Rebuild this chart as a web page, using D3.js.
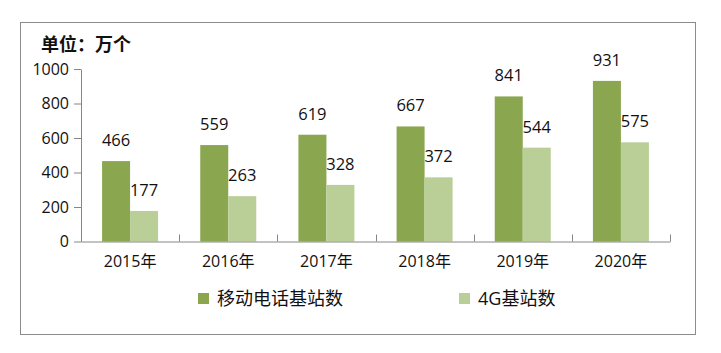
<!DOCTYPE html>
<html>
<head>
<meta charset="utf-8">
<script src="https://cdn.jsdelivr.net/npm/d3@7"></script>
<style>
  body { margin: 0; background: #fff; }
  text { font-family: "Open Sans", "Noto Sans CJK SC", sans-serif; fill: #111; }
</style>
</head>
<body>
<svg id="drawing_region"></svg>
<script>
const years = ["2015年", "2016年", "2017年", "2018年", "2019年", "2020年"];
const mobileStations = [466, 559, 619, 667, 841, 931];
const stations4G = [177, 263, 328, 372, 544, 575];
const seriesNames = ["移动电话基站数", "4G基站数"];
const yTicks = [0, 200, 400, 600, 800, 1000];

const colors = ["#8aa64f", "#b9cf97"];

const width = 721, height = 353;
const margin = {top: 69, right: 51, bottom: 111.5, left: 81};
const innerW = width - margin.left - margin.right;
const innerH = height - margin.top - margin.bottom;

const svg = d3.select('#drawing_region')
    .attr('width', width)
    .attr('height', height);

// outer frame
svg.append('rect')
    .attr('x', 20.5).attr('y', 22.5)
    .attr('width', 675).attr('height', 312)
    .attr('fill', 'none')
    .attr('stroke', '#8c8c8c');

svg.append('text')
    .attr('x', 41).attr('y', 51)
    .attr('font-size', 18)
    .attr('font-weight', 'bold')
    .style('font-family', '"Noto Sans CJK SC", sans-serif')
    .text('单位：万个');

const chart = svg.append('g')
    .attr('transform', `translate(${margin.left}, ${margin.top})`);

const xscale = d3.scaleBand()
    .domain(years)
    .range([0, innerW]);

const inner = d3.scaleBand()
    .domain([0, 1])
    .range([0, 56])
    .paddingInner(0);

const yscale = d3.scaleLinear()
    .domain([0, 1000])
    .range([innerH, 0]);

// y axis
const yaxis_group = chart.append('g')
    .call(d3.axisLeft(yscale).tickValues(yTicks).tickFormat(d3.format('d'))
        .tickSize(7).tickPadding(5).tickSizeOuter(0));
yaxis_group.select('.domain').attr('stroke', '#868686');
yaxis_group.selectAll('.tick line').attr('stroke', '#868686');
yaxis_group.selectAll('.tick text')
    .attr('font-size', 16)
    .style('font-family', '"Open Sans", sans-serif')
    .attr('fill', '#111');

// bars
const series = [mobileStations, stations4G];
series.forEach((vals, s) => {
    const groupOffset = (xscale.bandwidth() - 56) / 2;
    chart.append('g').selectAll('rect')
        .data(vals)
        .join('rect')
        .attr('x', (d, i) => xscale(years[i]) + groupOffset + inner(s))
        .attr('y', d => yscale(d))
        .attr('width', inner.bandwidth())
        .attr('height', d => innerH - yscale(d))
        .attr('fill', colors[s]);

    chart.append('g').selectAll('text')
        .data(vals)
        .join('text')
        .attr('x', (d, i) => xscale(years[i]) + groupOffset + inner(s) + inner.bandwidth() / 2)
        .attr('y', d => yscale(d) - 15)
        .attr('text-anchor', 'middle')
        .attr('font-size', 16.5)
        .text(d => d);
});

// x axis
const xaxis_group = chart.append('g')
    .attr('transform', `translate(0, ${innerH})`)
    .call(d3.axisBottom(xscale).tickSize(0).tickPadding(14).tickSizeOuter(0));
xaxis_group.select('.domain').attr('stroke', '#868686');
xaxis_group.selectAll('.tick text')
    .attr('font-size', 16)
    .attr('fill', '#111');

// category boundary ticks (pointing up)
const bounds = years.map(y => xscale(y)).concat([innerW]);
xaxis_group.selectAll('.bound')
    .data(bounds)
    .join('line')
    .attr('class', 'bound')
    .attr('x1', d => Math.round(d) + 0.5).attr('x2', d => Math.round(d) + 0.5)
    .attr('y1', 0).attr('y2', -7)
    .attr('stroke', '#868686');

// legend
const legendX = [198, 459];
const legend = svg.append('g');
seriesNames.forEach((name, s) => {
    legend.append('rect')
        .attr('x', legendX[s]).attr('y', 293)
        .attr('width', 11).attr('height', 11)
        .attr('fill', colors[s]);
    legend.append('text')
        .attr('x', legendX[s] + 19).attr('y', 305)
        .attr('font-size', 18)
        .text(name);
});
</script>
</body>
</html>
